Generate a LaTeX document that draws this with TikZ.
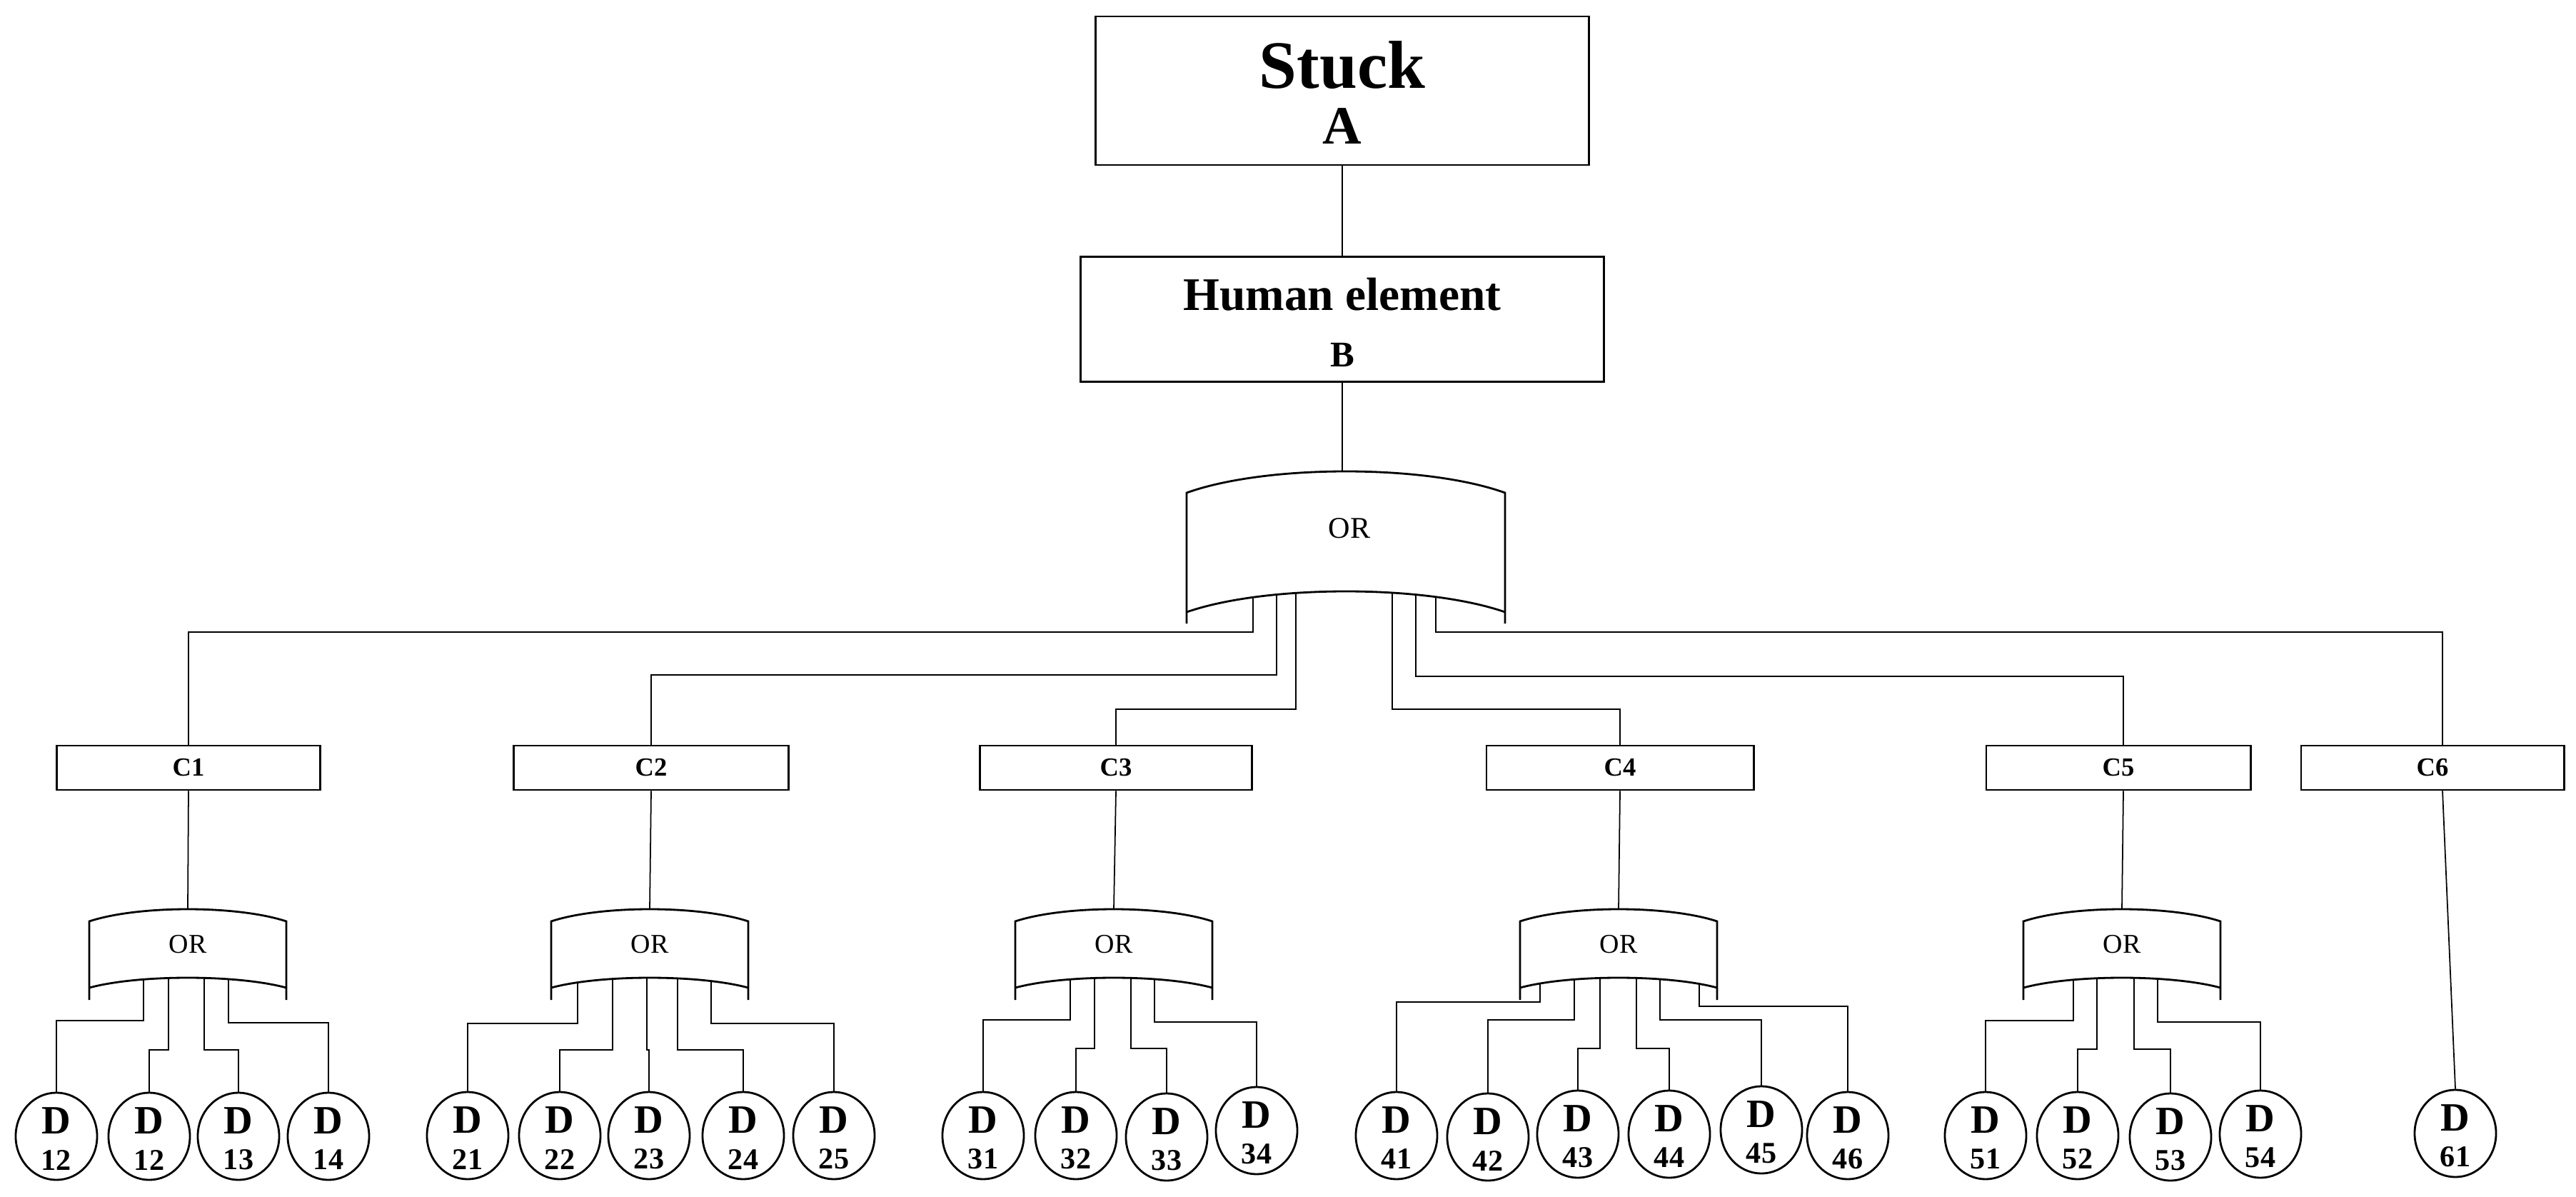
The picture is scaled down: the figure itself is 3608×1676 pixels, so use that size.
\documentclass[tikz,border=0pt]{standalone}
\usepackage{fontspec}
\setmainfont{Liberation Serif}
\usetikzlibrary{shapes.geometric}
\begin{document}
\begin{tikzpicture}[x=0.01cm,y=-0.01cm,
  conn/.style={line width=0.8pt},
  thin/.style={line width=0.5pt},
  box/.style={draw,line width=0.8pt,inner sep=0pt},
  cbox/.style={box,minimum height=0.62cm,font=\fontsize{10.4}{11}\selectfont\bfseries},
  dnode/.style={draw,ellipse,line width=0.8pt,minimum width=1.14cm,minimum height=1.22cm,inner sep=0pt},
  gate/.style={line width=0.8pt},
  ortxt/.style={font=\fontsize{10.8}{11}\selectfont}]
\useasboundingbox (0,0) rectangle (3608,1676);
% gate macro: cx, w, tc, st, bc, sb, le
\newcommand\orgateshape[7]{%
  \draw[gate] ({#1-#2},#7) -- ({#1-#2},#4)
    .. controls ({#1-0.5*#2},{#4-4/3*(#4-#3)}) and ({#1+0.5*#2},{#4-4/3*(#4-#3)}) .. ({#1+#2},#4)
    -- ({#1+#2},#7);
  \draw[gate] ({#1-#2},#6)
    .. controls ({#1-0.5*#2},{#6-4/3*(#6-#5)}) and ({#1+0.5*#2},{#6-4/3*(#6-#5)}) .. ({#1+#2},#6);}
% top boxes
\node[box,minimum width=6.9cm,minimum height=2.08cm,
  label={[yshift=0.36cm,font=\fontsize{27}{27}\selectfont\bfseries]center:Stuck},
  label={[yshift=-0.50cm,font=\fontsize{21.5}{22}\selectfont\bfseries]center:A}] (a) at (1880,127) {};
\node[box,minimum width=7.32cm,minimum height=1.75cm,
  label={[yshift=0.35cm,font=\fontsize{18.6}{19}\selectfont\bfseries]center:Human element},
  label={[yshift=-0.50cm,font=\fontsize{14.4}{15}\selectfont\bfseries]center:B}] (b) at (1880,447) {};
% top gate
\orgateshape{1885}{223}{660}{690}{828}{857}{873}
\node[font=\fontsize{12}{12}\selectfont] (g0) at (1890,740) {OR};
\coordinate (g0t) at (1880,660);
\draw[thin] (a.south) -- (b.north);
\draw[thin] (b.south) -- (g0t);
% C boxes
\node[cbox,minimum width=3.69cm] (c1) at (264,1075) {C1};
\node[cbox,minimum width=3.84cm] (c2) at (912,1075) {C2};
\node[cbox,minimum width=3.80cm] (c3) at (1563,1075) {C3};
\node[cbox,minimum width=3.74cm] (c4) at (2269,1075) {C4};
\node[cbox,minimum width=3.70cm] (c5) at (2967,1075) {C5};
\node[cbox,minimum width=3.68cm] (c6) at (3407,1075) {C6};
% top gate branches
\foreach \sx/\hy/\c/\xs in {1755/885/c1/0,1788/945/c2/0,1815/993/c3/0,1950/993/c4/0,1983/947/c5/7,2011/885/c6/14}{
  \coordinate (t\c) at (\sx,{828+29*pow((\sx-1885)/223,2)});
  \draw[conn] (t\c) -- (\sx,\hy) -| ([xshift=\xs*0.01cm]\c.north);
}
% lower gates
\foreach \i/\cx in {1/263,2/910,3/1560,4/2267,5/2972}{
  \orgateshape{\cx}{138}{1273}{1290}{1369}{1383}{1400}
  \node[ortxt] (g\i) at (\cx,1322) {OR};
  \coordinate (g\i t) at (\cx,1273);
}
\draw[thin] (c1.south) -- (g1t);
\draw[thin] (c2.south) -- (g2t);
\draw[thin] (c3.south) -- (g3t);
\draw[thin] (c4.south) -- (g4t);
\draw[thin] ([xshift=0.07cm]c5.south) -- (g5t);
% D nodes
\foreach \n/\lab/\x/\y in {11/12/79/1591,12/12/209/1591,13/13/334/1591,14/14/460/1591,
  21/21/655/1590,22/22/784/1590,23/23/909/1590,24/24/1041/1590,25/25/1168/1590,
  31/31/1377/1590,32/32/1507/1590,33/33/1634/1592,34/34/1760/1583,
  41/41/1956/1590,42/42/2084/1592,43/43/2210/1588,44/44/2338/1588,45/45/2467/1582,46/46/2588/1590,
  51/51/2781/1590,52/52/2910/1590,53/53/3040/1592,54/54/3166/1588,61/61/3439/1587}{
  \node[dnode,
    label={[yshift=0.22cm,font=\fontsize{16}{16}\selectfont\bfseries]center:D},
    label={[yshift=-0.33cm,font=\fontsize{12}{12}\selectfont\bfseries]center:\lab}] (d\n) at (\x,\y) {};
}
% gate -> D connectors
\foreach \n/\sx/\hy/\gx in {11/201/1429/263,12/236/1470/263,13/286/1470/263,14/320/1432/263,
  21/809/1433/910,22/858/1470/910,23/906/1470/910,24/949/1470/910,25/996/1433/910,
  31/1499/1428/1560,32/1533/1468/1560,33/1584/1468/1560,34/1617/1431/1560,
  41/2157/1403/2267,42/2205/1428/2267,43/2241/1468/2267,44/2292/1468/2267,45/2325/1428/2267,46/2380/1409/2267,
  51/2904/1429/2972,52/2937/1469/2972,53/2989/1469/2972,54/3022/1431/2972}{
  \coordinate (s\n) at (\sx,{1369+14*pow((\sx-\gx)/138,2)});
  \draw[conn] (s\n) -- (\sx,\hy) -| (d\n.north);
}
\draw[thin] ([xshift=0.14cm]c6.south) -- (d61.north);
\end{tikzpicture}
\end{document}
